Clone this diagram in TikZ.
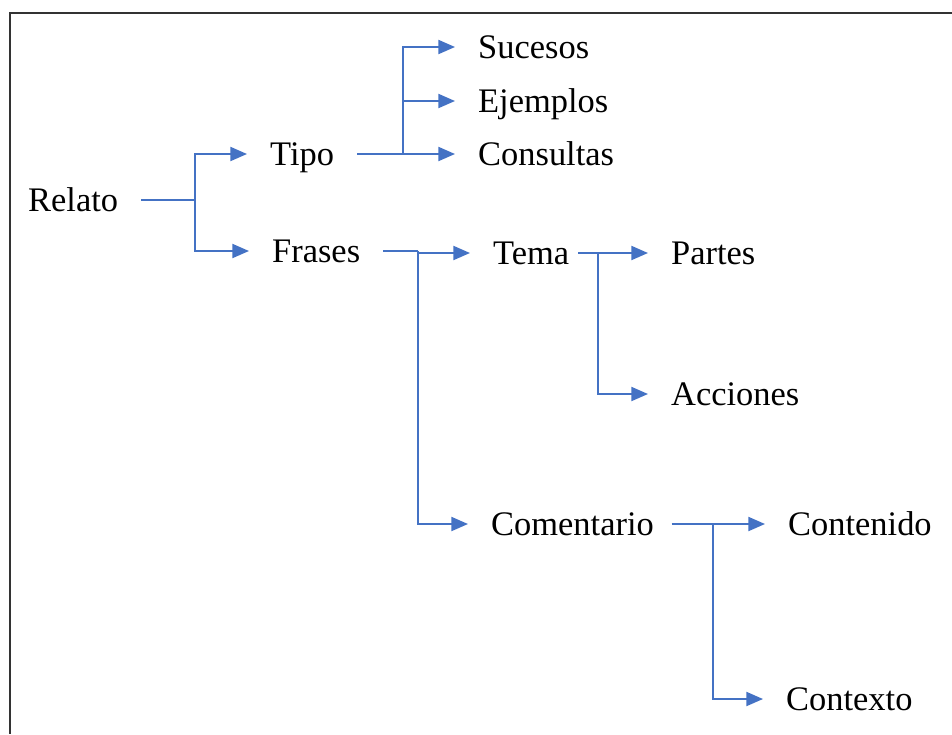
\documentclass[tikz,border=0pt]{standalone}
\usepackage{fontspec}
\setmainfont{Liberation Serif}
\usepackage{xcolor}
\usetikzlibrary{arrows.meta}
\definecolor{linkblue}{HTML}{4472C4}

\tikzset{
    item/.style={anchor=west, inner xsep=13pt, inner ysep=0pt, text height=13.3pt, text depth=0pt, font=\fontsize{19.6}{24}\selectfont},
    link/.style={draw=linkblue, line width=1.1pt},
    arrow/.style={link, -{Triangle[length=9.5pt, width=8pt]}}
}

\begin{document}
\begin{tikzpicture}[x=0.02cm, y=-0.02cm]
            \useasboundingbox (0,0) rectangle (952,734);
            % Frame
            \draw[black!80, line width=1.3pt] (952,13) -- (10,13) -- (10,734);

            % Root
            \node[item] (relato) at (5,200) {Relato};

            % First level
            \node[item] (tipo) at (247,154) {Tipo};
            \node[item] (frases) at (249,251) {Frases};

            % Tipo branch
            \node[item] (sucesos) at (455,47) {Sucesos};
            \node[item] (ejemplos) at (455,101) {Ejemplos};
            \node[item] (consultas) at (455,154) {Consultas};

            % Frases branch
            \node[item] (tema) at (470,253) {Tema};
            \node[item] (comentario) at (468,524) {Comentario};

            % Tema branch
            \node[item] (partes) at (648,253) {Partes};
            \node[item] (acciones) at (648,394) {Acciones};

            % Comentario branch
            \node[item] (contenido) at (765,524) {Contenido};
            \node[item] (contexto) at (763,699) {Contexto};

            % Junctions
            \coordinate (jrelato) at (195,200);
            \coordinate (jtipo) at (403,154);
            \coordinate (jfrases) at (418,251);
            \coordinate (jtema) at (598,253);
            \coordinate (jcomentario) at (713,524);

            % Arrows
            \draw[link] (relato.east) -- (jrelato);
            \draw[arrow] (jrelato) |- (tipo.west);
            \draw[arrow] (jrelato) |- (frases.west);

            \draw[link] (tipo.east) -- (jtipo);
            \draw[arrow] (jtipo) |- (sucesos.west);
            \draw[arrow] (jtipo) |- (ejemplos.west);
            \draw[arrow] (jtipo) -- (consultas.west);

            \draw[link] (frases.east) -- (jfrases);
            \draw[arrow] (jfrases) |- (tema.west);
            \draw[arrow] (jfrases) |- (comentario.west);

            \draw[link] ([xshift=-8pt]tema.east) -- (jtema);
            \draw[arrow] (jtema) -- (partes.west);
            \draw[arrow] (jtema) |- (acciones.west);

            \draw[link] ([xshift=-3pt]comentario.east) -- (jcomentario);
            \draw[arrow] (jcomentario) -- (contenido.west);
            \draw[arrow] (jcomentario) |- (contexto.west);
\end{tikzpicture}
\end{document}
